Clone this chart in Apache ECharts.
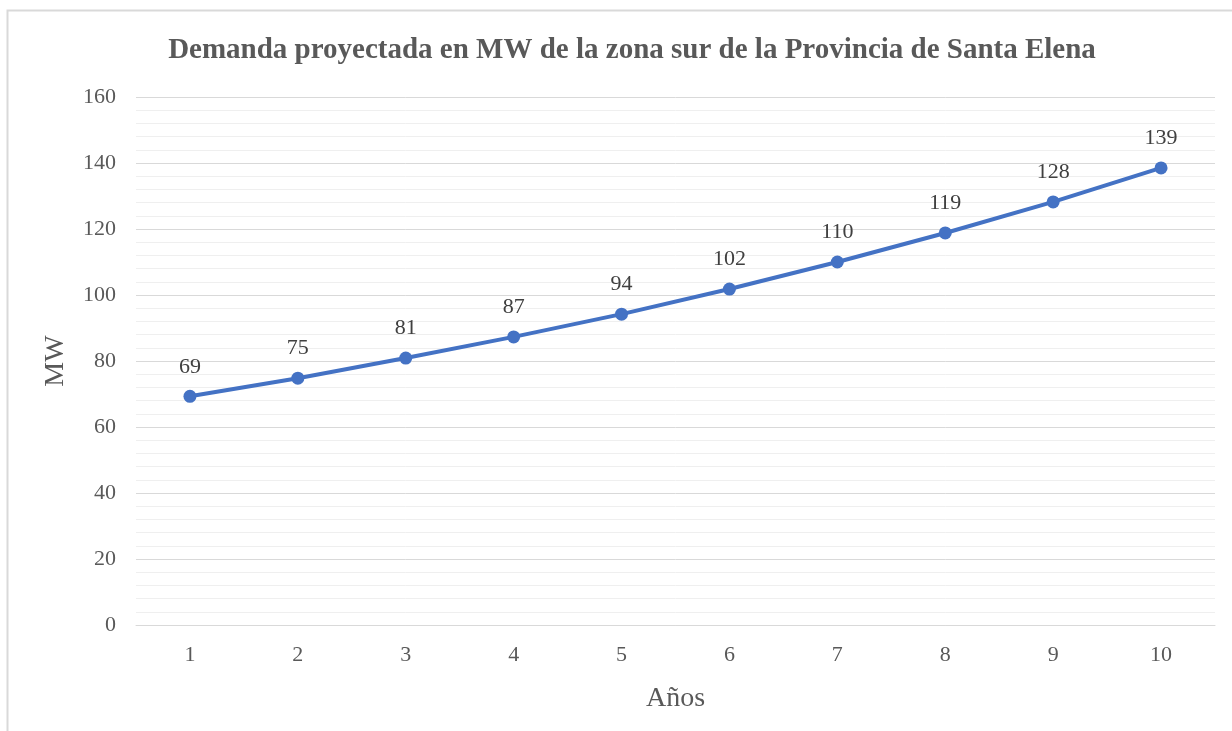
<!DOCTYPE html>
<html>
<head>
<meta charset="utf-8">
<script src="https://cdn.jsdelivr.net/npm/echarts@6/dist/echarts.min.js"></script>
<style>
html,body{margin:0;padding:0;background:#fff;}
#chart{width:1232px;height:731px;}
</style>
</head>
<body>
<div id="chart"></div>
<script>
const titleText = 'Demanda proyectada en MW de la zona sur de la Provincia de Santa Elena';
const years = ['1','2','3','4','5','6','7','8','9','10'];
const demandMW = [69.3, 74.8, 80.9, 87.3, 94.2, 101.8, 110.0, 118.8, 128.2, 138.5];
const yTicks = {min: 0, max: 160, interval: 20};
const xAxisName = 'Años';
const yAxisName = 'MW';

const font = '"Liberation Serif", "Times New Roman", serif';
const chart = echarts.init(document.getElementById('chart'));
chart.setOption({
  backgroundColor: '#ffffff',
  animation: false,
  graphic: [{
    type: 'rect',
    shape: {x: 7.5, y: 10.5, width: 1300, height: 800},
    style: {fill: 'none', stroke: '#d9d9d9', lineWidth: 2},
    silent: true
  }],
  title: {
    text: titleText,
    left: 627, top: 31, textAlign: 'center',
    textStyle: {fontFamily: font, fontWeight: 'bold', fontSize: 29, color: '#595959'}
  },
  grid: {left: 136, right: 17, top: 97, bottom: 106, containLabel: false},
  xAxis: {
    type: 'category',
    data: years,
    boundaryGap: true,
    name: xAxisName,
    nameLocation: 'middle',
    nameGap: 60,
    nameTextStyle: {fontFamily: font, fontSize: 28, color: '#595959'},
    axisLine: {show: true, lineStyle: {color: '#d9d9d9', width: 1}},
    axisTick: {show: false},
    axisLabel: {fontFamily: font, fontSize: 22, color: '#595959', margin: 19}
  },
  yAxis: {
    type: 'value',
    min: yTicks.min, max: yTicks.max, interval: yTicks.interval,
    name: yAxisName,
    nameLocation: 'middle',
    nameGap: 66,
    nameRotate: 90,
    nameTextStyle: {fontFamily: font, fontSize: 28, color: '#595959'},
    axisLine: {show: false},
    axisTick: {show: false},
    axisLabel: {fontFamily: font, fontSize: 22, color: '#595959', margin: 20},
    splitLine: {show: true, lineStyle: {color: '#d9d9d9', width: 1}},
    minorTick: {show: false, splitNumber: 5},
    minorSplitLine: {show: true, lineStyle: {color: '#efefef', width: 1}}
  },
  series: [{
    type: 'line',
    data: demandMW,
    lineStyle: {color: '#4472C4', width: 4},
    itemStyle: {color: '#4472C4'},
    symbol: 'circle',
    symbolSize: 13,
    label: {
      show: true,
      position: 'top',
      distance: 12,
      formatter: p => Math.round(p.value),
      fontFamily: font, fontSize: 22, color: '#404040'
    }
  }]
});
</script>
</body>
</html>
